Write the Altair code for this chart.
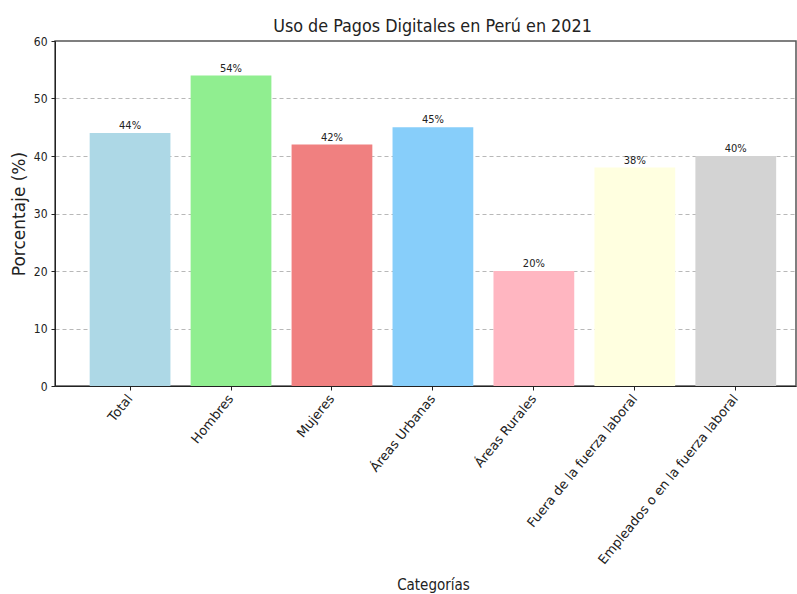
import altair as alt
import pandas as pd

categories = ["Total", "Hombres", "Mujeres", "Áreas Urbanas", "Áreas Rurales",
              "Fuera de la fuerza laboral", "Empleados o en la fuerza laboral"]
values = [44, 54, 42, 45, 20, 38, 40]
colors = ["#ADD8E6", "#90EE90", "#F08080", "#87CEFA", "#FFB6C1", "#FFFFE0", "#D3D3D3"]

df = pd.DataFrame({"cat": categories, "val": values,
                   "lab": [f"{v}%" for v in values]})

FONT = "DejaVu Sans"
CFONT = "DejaVu Sans Condensed, Liberation Sans Narrow, DejaVu Sans"

x = alt.X("cat:N", sort=categories, title="Categorías",
          scale=alt.Scale(paddingInner=0.2, paddingOuter=0.27, align=0.636),
          axis=alt.Axis(labelAngle=-51, labelAlign="right", labelBaseline="middle",
                        labelFont=FONT, labelFontSize=13, labelColor="#222",
                        labelLimit=0, titleFont=CFONT, titleFontSize=15,
                        titleColor="#222", titleFontWeight="normal",
                        domainColor="#222", tickColor="#222", tickSize=4,
                        labelPadding=6, grid=False, titleY=191, titleX=378,
                        titleAlign="center"))
y = alt.Y("val:Q", title="Porcentaje (%)",
          scale=alt.Scale(domain=[0, 60], nice=False),
          axis=alt.Axis(values=[0, 10, 20, 30, 40, 50, 60], labelFont=CFONT,
                        labelFontSize=12, labelColor="#222", titleFont=FONT,
                        titleFontSize=17, titleColor="#222",
                        titleFontWeight="normal", titlePadding=5,
                        domainColor="#222", tickColor="#222", tickSize=4,
                        labelPadding=4,
                        grid=True, gridColor="#b0b0b0", gridDash=[4, 3],
                        gridOpacity={"condition": {"test": "datum.value >= 60", "value": 0},
                                     "value": 0.9}))

bars = alt.Chart(df).mark_bar().encode(
    x=x, y=y,
    color=alt.Color("cat:N", sort=categories,
                    scale=alt.Scale(domain=categories, range=colors), legend=None),
)
text = alt.Chart(df).mark_text(baseline="bottom", dy=-2, fontSize=11,
                               font=CFONT, color="#222").encode(
    x=alt.X("cat:N", sort=categories),
    y=alt.Y("val:Q"),
    text="lab:N",
)

chart = (bars + text).properties(
    width=741, height=345,
    title=alt.TitleParams("Uso de Pagos Digitales en Perú en 2021", fontSize=17.8,
                          fontWeight="normal", color="#222", font=CFONT, offset=-1,
                          dx=7),
    autosize=alt.AutoSizeParams(type="none"),
    padding={"left": 55, "top": 41, "right": 1, "bottom": 208},
).configure_view(stroke="#555", strokeWidth=1.5)

chart.save("out.html", embed_options={"renderer": "svg", "actions": False})
